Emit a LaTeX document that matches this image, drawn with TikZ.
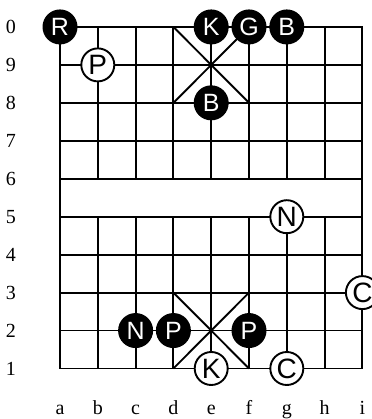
\documentclass[tikz,border=0pt]{standalone}
\usepackage{fontspec}
\setmainfont{Liberation Serif}
\setsansfont{Liberation Sans}

\begin{document}
\begin{tikzpicture}[x=37.8pt, y=37.95pt, line width=1.9pt,
  every node/.style={inner sep=0pt},
  piece/.style={circle, minimum size=33pt},
  blackpiece/.style={piece, minimum size=35pt, fill=black, text=white,
    font=\fontsize{25}{25}\selectfont\sffamily},
  whitepiece/.style={piece, draw=black, fill=white,
    font=\fontsize{28}{28}\selectfont\sffamily},
  lbl/.style={font=\fontsize{20}{20}\selectfont}]
\useasboundingbox (-60pt,-50.5pt) rectangle (311pt,368.5pt);
% board: ranks across, files broken by the river
\foreach \j in {0,...,9}
  \draw (0,\j) -- (8,\j);
\foreach \i in {1,...,7} {
  \draw (\i,0) -- (\i,4);
  \draw (\i,5) -- (\i,9);
}
\draw (0,0) rectangle (8,9);
% palaces
\draw (3,0) -- (5,2) (5,0) -- (3,2);
\draw (3,7) -- (5,9) (5,7) -- (3,9);

% rank and file labels
\foreach \r [count=\i from 0] in {1,2,3,4,5,6,7,8,9,0}
  \node[lbl] (row\r) at ([xshift=-49pt]0,\i) {\r};
\foreach \c [count=\i from 0] in {a,b,c,d,e,f,g,h,i}
  \node[lbl, anchor=base] (col\c) at ([yshift=-46pt]\i,0) {\c};

% black side
\node[blackpiece] (bRa0) at (0,9) {R};
\node[blackpiece] (bKe0) at (4,9) {K};
\node[blackpiece] (bGf0) at (5,9) {G};
\node[blackpiece] (bBg0) at (6,9) {B};
\node[blackpiece] (bBe8) at (4,7) {B};
\node[blackpiece] (bNc2) at (2,1) {N};
\node[blackpiece] (bPd2) at (3,1) {P};
\node[blackpiece] (bPf2) at (5,1) {P};

% white side
\node[whitepiece] (wPb9) at (1,8) {P};
\node[whitepiece] (wNg5) at (6,4) {N};
\node[whitepiece] (wCi3) at (8,2) {C};
\node[whitepiece] (wKe1) at (4,0) {K};
\node[whitepiece] (wCg1) at (6,0) {C};
\end{tikzpicture}
\end{document}
